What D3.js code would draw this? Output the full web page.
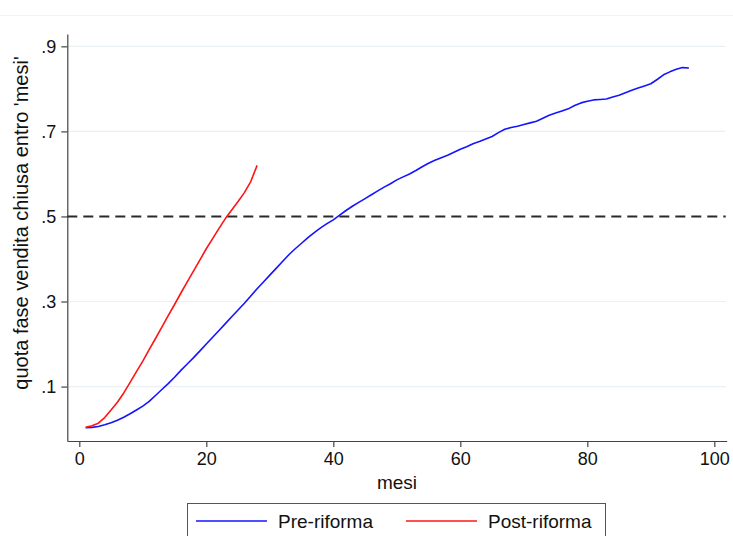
<!DOCTYPE html>
<html>
<head>
<meta charset="utf-8">
<script src="https://cdn.jsdelivr.net/npm/d3@7"></script>
<style>
  body { margin: 0; background: #fff; }
  svg { display: block; }
  text { font-family: "Liberation Sans", Arial, Helvetica, sans-serif; fill: #111; }
</style>
</head>
<body>
<div id="chart"></div>
<script>
// Datasets
var mesiPre = d3.range(1, 97);
var quotaPre = [
  0.003, 0.004, 0.006, 0.010, 0.015, 0.021, 0.028, 0.036, 0.045, 0.054,
  0.065, 0.079, 0.093, 0.107, 0.122, 0.138, 0.153, 0.168, 0.184, 0.200,
  0.216, 0.232, 0.248, 0.264, 0.280, 0.296, 0.313, 0.330, 0.346, 0.362,
  0.378, 0.394, 0.410, 0.424, 0.437, 0.450, 0.462, 0.473, 0.483, 0.492,
  0.503, 0.514, 0.524, 0.533, 0.542, 0.551, 0.560, 0.569, 0.577, 0.586,
  0.593, 0.600, 0.608, 0.617, 0.625, 0.632, 0.638, 0.644, 0.651, 0.658,
  0.664, 0.671, 0.676, 0.682, 0.688, 0.697, 0.705, 0.709, 0.712, 0.716,
  0.720, 0.724, 0.731, 0.738, 0.743, 0.748, 0.753, 0.761, 0.767, 0.771,
  0.774, 0.775, 0.776, 0.781, 0.785, 0.791, 0.797, 0.802, 0.807, 0.812,
  0.822, 0.833, 0.840, 0.846, 0.850, 0.849
];
var mesiPost = d3.range(1, 29);
var quotaPost = [
  0.004, 0.008, 0.014, 0.027, 0.045, 0.063, 0.085, 0.110, 0.135, 0.160,
  0.187, 0.213, 0.240, 0.267, 0.293, 0.320, 0.346, 0.372, 0.398, 0.424,
  0.448, 0.472, 0.495, 0.515, 0.535, 0.556, 0.582, 0.620
];
var xTicks = [0, 20, 40, 60, 80, 100];
var yTicks = [0.1, 0.3, 0.5, 0.7, 0.9];
var yTickLabels = [".1", ".3", ".5", ".7", ".9"];
var soglia = 0.5;
var seriesNames = ["Pre-riforma", "Post-riforma"];
var seriesColors = ["#1414ff", "#ff1414"];

var width = 733,
    height = 536;

var svg = d3.select("#chart").append("svg")
    .attr("width", width)
    .attr("height", height);

// faint outer border line at the top
svg.append("line")
    .attr("x1", 0).attr("x2", width)
    .attr("y1", 15.5).attr("y2", 15.5)
    .attr("stroke", "#f1f3f4");

// scales
var x = d3.scaleLinear().domain([-1.89, 101.95]).range([67.3, 726.7]);
var y = d3.scaleLinear().domain([-0.028, 0.929]).range([441, 34]);

// gridlines
svg.append("g")
    .selectAll("line")
    .data(yTicks.filter(function (d) { return d !== soglia; }))
    .enter()
    .append("line")
    .attr("x1", x.range()[0]).attr("x2", x.range()[1] - 1)
    .attr("y1", function (d) { return y(d); })
    .attr("y2", function (d) { return y(d); })
    .attr("stroke", "#e9f1f4")
    .attr("stroke-width", 1.2);

// axes
var xAxis = svg.append("g")
    .attr("transform", "translate(0," + y.range()[0] + ")")
    .call(d3.axisBottom(x).tickValues(xTicks).tickSize(6).tickSizeOuter(0).tickPadding(5));
var yAxis = svg.append("g")
    .attr("transform", "translate(" + x.range()[0] + ",0)")
    .call(d3.axisLeft(y).tickValues(yTicks).tickSize(6).tickSizeOuter(0).tickPadding(5)
        .tickFormat(function (d, i) { return yTickLabels[i]; }));

[xAxis, yAxis].forEach(function (a) {
    a.select(".domain").attr("stroke", "#444").attr("stroke-width", 1.2);
    a.selectAll(".tick line").attr("stroke", "#444").attr("stroke-width", 1.2);
    a.selectAll(".tick text")
        .attr("fill", "#111")
        .style("font-size", "18px")
        .style("font-family", "'Liberation Sans', Arial, sans-serif");
});

// dashed 0.5 line
svg.append("line")
    .attr("x1", x.range()[0]).attr("x2", x.range()[1] - 1)
    .attr("y1", y(soglia)).attr("y2", y(soglia))
    .attr("stroke", "#2a2a2a")
    .attr("stroke-width", 2)
    .attr("stroke-dasharray", "10,6");

// lines
var line = d3.line()
    .x(function (d) { return x(d[0]); })
    .y(function (d) { return y(d[1]); });

var series = [d3.zip(mesiPre, quotaPre), d3.zip(mesiPost, quotaPost)];

svg.append("g")
    .selectAll("path")
    .data(series)
    .enter()
    .append("path")
    .attr("fill", "none")
    .attr("stroke", function (d, i) { return seriesColors[i]; })
    .attr("stroke-width", 1.6)
    .attr("stroke-linejoin", "round")
    .attr("d", line);

// axis titles
svg.append("text")
    .attr("x", (x.range()[0] + x.range()[1]) / 2)
    .attr("y", 489)
    .attr("text-anchor", "middle")
    .style("font-size", "19px")
    .text("mesi");

svg.append("text")
    .attr("transform", "translate(28," + 223 + ") rotate(-90)")
    .attr("text-anchor", "middle")
    .style("font-size", "20px")
    .text("quota fase vendita chiusa entro 'mesi'");

// legend
var legend = svg.append("g");
legend.append("rect")
    .attr("x", 187.5).attr("y", 503.5)
    .attr("width", 418).attr("height", 60)
    .attr("fill", "#fff")
    .attr("stroke", "#555")
    .attr("stroke-width", 1);

var legendX = [196, 406];
var items = legend.selectAll("g.item")
    .data(seriesNames)
    .enter()
    .append("g")
    .attr("class", "item")
    .attr("transform", function (d, i) { return "translate(" + legendX[i] + ",521)"; });
items.append("line")
    .attr("x1", 0).attr("x2", 71)
    .attr("stroke", function (d, i) { return seriesColors[i]; })
    .attr("stroke-width", 1.6);
items.append("text")
    .attr("x", 82)
    .attr("y", 7)
    .style("font-size", "19px")
    .text(function (d) { return d; });
</script>
</body>
</html>
